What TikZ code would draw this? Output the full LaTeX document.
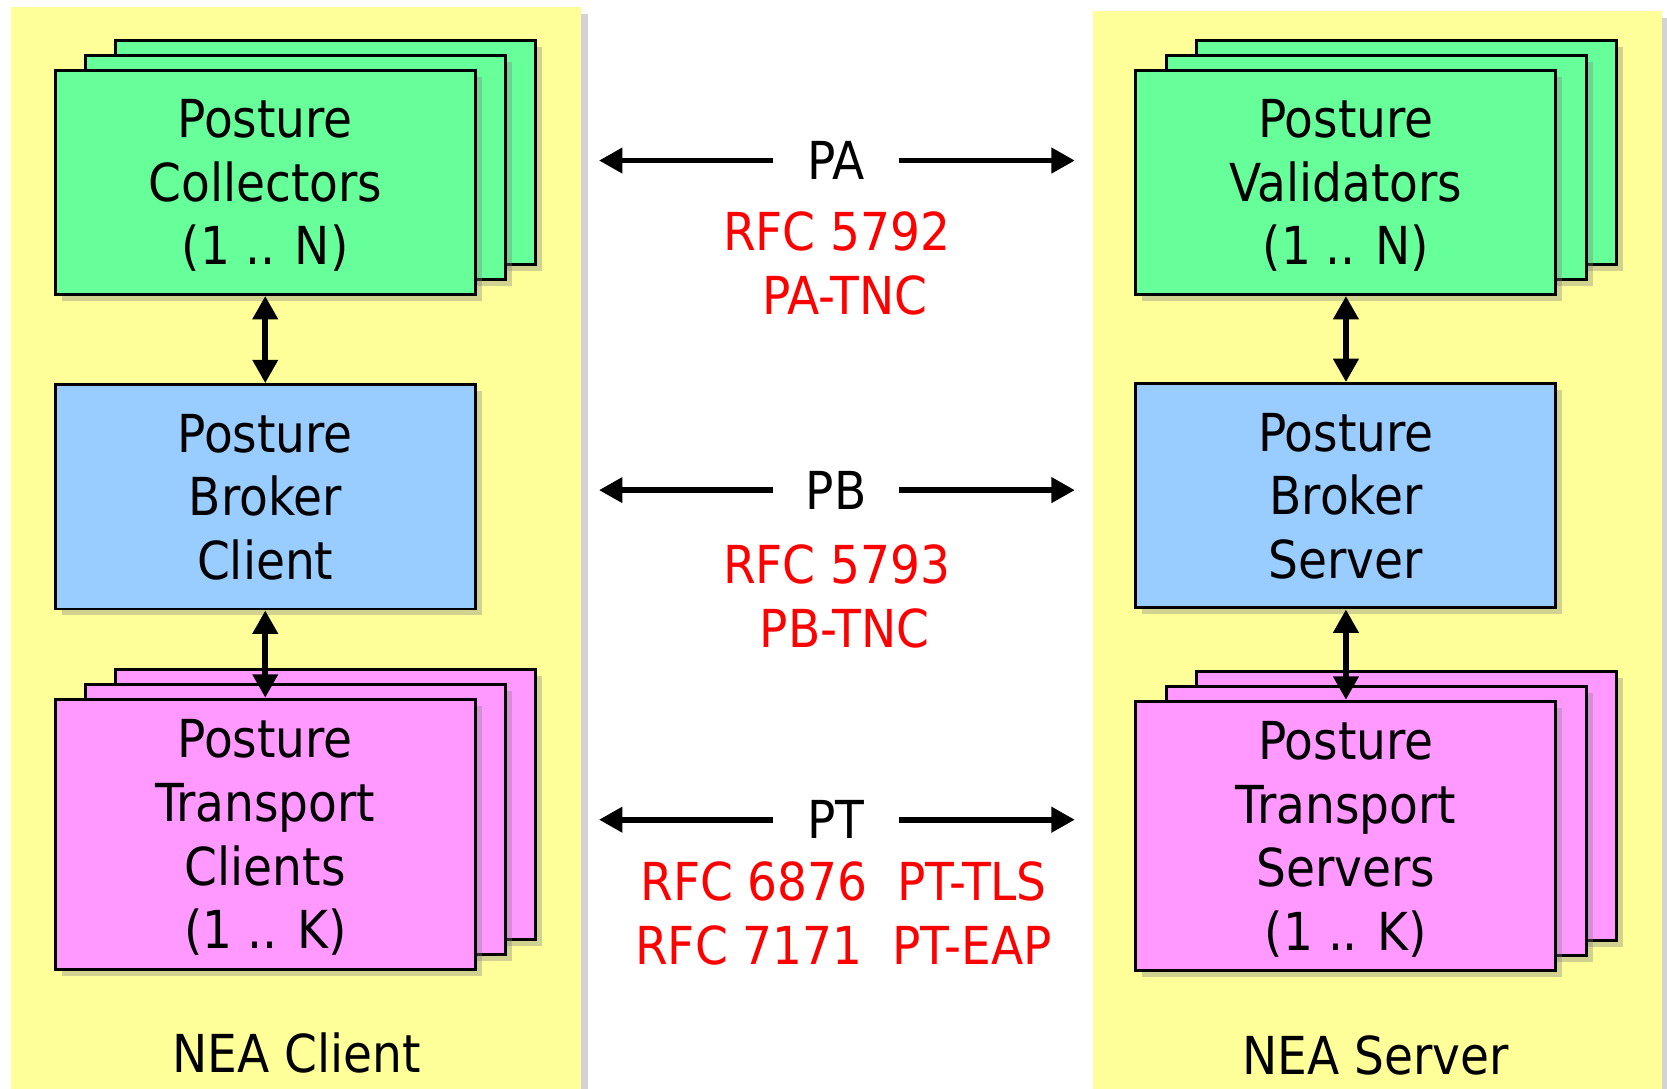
\documentclass[tikz,border=0pt]{standalone}
\usepackage{fontspec}
\setmainfont{DejaVu Sans Condensed}
\usepackage{tikz}
\usetikzlibrary{positioning,shadows,arrows.meta}

\definecolor{panelyellow}{HTML}{FFFF99}
\definecolor{pagreen}{HTML}{66FF99}
\definecolor{pbblue}{HTML}{99CCFF}
\definecolor{ptpink}{HTML}{FF99FF}

\newcommand\boxfont{\fontsize{14}{17}\selectfont}

\tikzset{
  shade/.style 2 args={drop shadow={shadow xshift=#1, shadow yshift=#2, opacity=0.35}},
}

\begin{document}
\begin{tikzpicture}
\tikzstyle{box}=[rectangle, draw=black, line width=0.8pt, minimum width=3.95cm, minimum height=2.11cm, align=center, text depth=-0.06cm, font=\boxfont]
\tikzstyle{flat}=[box, shade={0.06cm}{-0.06cm}]
% two copies behind the front box, each with its own shadow
\tikzstyle{stack}=[box, shade={0.63cm}{0.22cm}, copy shadow={shadow xshift=0.57cm, shadow yshift=0.28cm},
  shade={0.345cm}{0.08cm}, copy shadow={shadow xshift=0.285cm, shadow yshift=0.14cm}, shade={0.06cm}{-0.06cm}]
\tikzstyle{panel}=[rectangle, fill=panelyellow, minimum width=5.36cm, minimum height=10.4cm, anchor=north west, shade={0.06cm}{-0.06cm}]
\tikzstyle{connect}=[{Triangle[length=0.22cm,width=0.23cm]}-{Triangle[length=0.22cm,width=0.23cm]}, line width=1.5pt]
\tikzstyle{wire}=[-{Triangle[length=0.22cm,width=0.23cm]}, line width=1.5pt, shorten >=0.16cm]
\tikzstyle{proto}=[minimum width=1.17cm, inner sep=0pt, font=\boxfont]
\tikzstyle{rfc}=[text=red, align=center, font=\boxfont]

\useasboundingbox (0,0) rectangle (15.68,-10.24);

  \node[panel] (client) at (0.10,-0.06) {};
  \node[panel] (server) at (10.27,-0.10) {};

  % client side
  \node[stack, fill=pagreen] (pcol) at (2.495,-1.715) {Posture\\Collectors\\(1 .. N)};
  \node[flat, fill=pbblue, below=0.82cm of pcol] (pbc) {Posture\\Broker\\Client};
  \node[stack, fill=ptpink, minimum height=2.54cm, below=0.82cm of pbc] (ptc) {Posture\\Transport\\Clients\\(1 .. K)};
  \node[font=\boxfont] (nclient) at (2.79,-9.90) {NEA Client};

  \path (pcol) edge [connect] (pbc);
  \path (pbc) edge [connect] (ptc);

  % server side
  \node[stack, fill=pagreen] (pval) at (12.66,-1.715) {Posture\\Validators\\(1 .. N)};
  \node[flat, fill=pbblue, below=0.81cm of pval] (pbs) {Posture\\Broker\\Server};
  \node[stack, fill=ptpink, minimum height=2.53cm, below=0.85cm of pbs] (pts) {Posture\\Transport\\Servers\\(1 .. K)};
  \node[font=\boxfont] (nserver) at (12.94,-9.93) {NEA Server};

  \path (pval) edge [connect] (pbs);
  \path (pbs) edge [connect] (pts);

  % protocols in between
  \node[proto] (pa) at (7.865,-1.51) {PA};
  \draw[wire] (pa) -- (pa -| client.east);
  \draw[wire] (pa) -- (pa -| server.west);
  \node[rfc] (parfc) at (7.87,-2.48) {RFC 5792\\\hspace*{0.3em}PA-TNC};

  \node[proto] (pb) at (7.865,-4.61) {PB};
  \draw[wire] (pb) -- (pb -| client.east);
  \draw[wire] (pb) -- (pb -| server.west);
  \node[rfc] (pbrfc) at (7.87,-5.61) {RFC 5793\\\hspace*{0.3em}PB-TNC};

  \node[proto] (pt) at (7.865,-7.71) {PT};
  \draw[wire] (pt) -- (pt -| client.east);
  \draw[wire] (pt) -- (pt -| server.west);
  \node[rfc] (ptrfc) at (7.935,-8.59) {RFC 6876\ \ PT-TLS\\RFC 7171\ \ PT-EAP};
\end{tikzpicture}
\end{document}
